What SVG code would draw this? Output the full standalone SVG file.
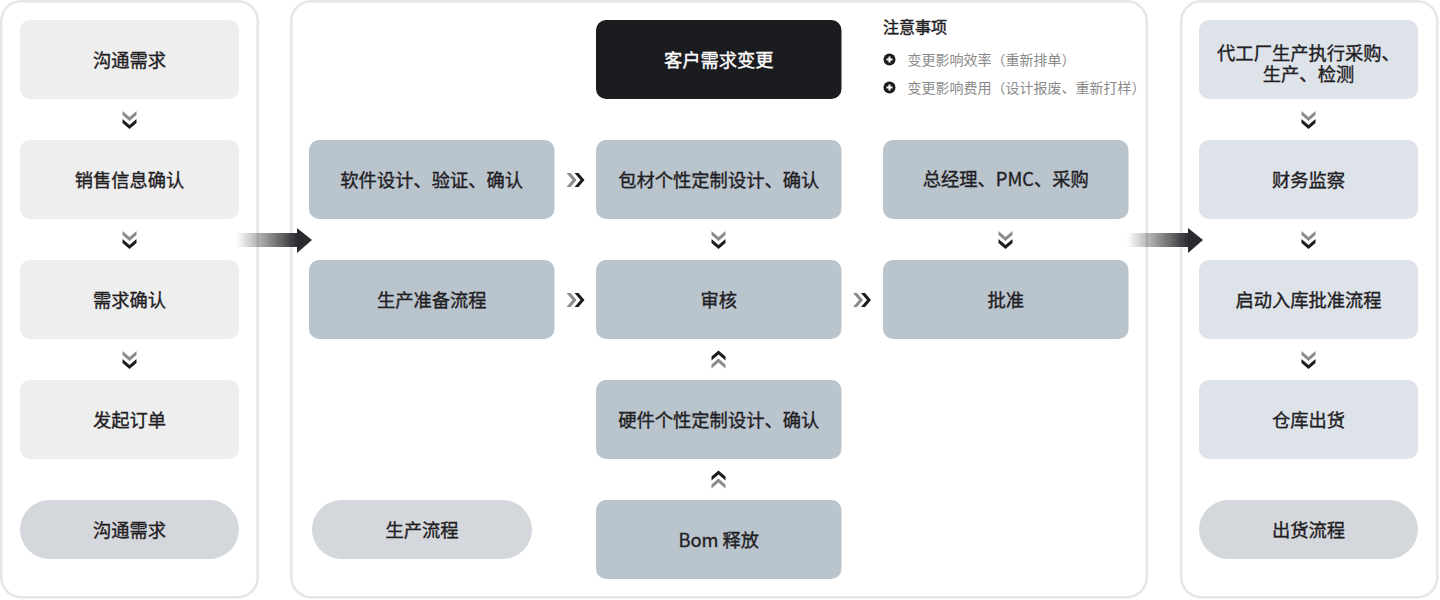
<svg xmlns="http://www.w3.org/2000/svg" width="1440" height="600" viewBox="0 0 1440 600">
<style>
text{font-family:"Noto Sans CJK SC","Noto Sans",sans-serif;}
.panel{fill:#ffffff;stroke:#e6e6e6;stroke-width:2.5;}
.lbox{fill:#eeeeee;}
.mbox{fill:#bac4cd;}
.rbox{fill:#dde3e9;}
.pill{fill:#d4d7db;}
.dark{fill:#1b1c1f;}
.t{font-size:18.3px;fill:#1f2023;stroke:#1f2023;stroke-width:0.35;text-anchor:middle;font-weight:400;}
.tw{font-size:18.3px;fill:#ffffff;stroke:#ffffff;stroke-width:0.35;text-anchor:middle;font-weight:400;}
.nt{font-size:16px;fill:#1f2023;stroke:#1f2023;stroke-width:0.45;font-weight:400;}
.ni{font-size:14px;fill:#8a8a8a;}
.cg{fill:#8c8c8c;}
.cb{fill:#1b1c1f;}
</style>
<defs>
<linearGradient id="ag" x1="0" y1="0" x2="1" y2="0">
<stop offset="0" stop-color="#2a2b2e" stop-opacity="0"/>
<stop offset="1" stop-color="#2a2b2e" stop-opacity="1"/>
</linearGradient>
<polygon id="cd" points="-7,0 0,6 7,0 7,4 0,10 -7,4"/>
<polygon id="cu" points="-7,10 0,4 7,10 7,6 0,0 -7,6"/>
<polygon id="cr" points="0,-7 6,0 0,7 4,7 10,0 4,-7"/>
</defs>

<g id="panels">
<rect class="panel" x="1.25" y="1.25" width="256.5" height="596" rx="20"/>
<rect class="panel" x="291.25" y="1.25" width="855.5" height="596" rx="20"/>
<rect class="panel" x="1181.25" y="1.25" width="256" height="596" rx="20"/>
</g>

<g id="left-column">
<g id="n-goutong"><rect class="lbox" x="20" y="20" width="219" height="79" rx="10"/><text class="t" x="129.5" y="67">沟通需求</text></g>
<g id="n-xiaoshou"><rect class="lbox" x="20" y="140" width="219" height="79" rx="10"/><text class="t" x="129.5" y="187">销售信息确认</text></g>
<g id="n-xuqiu"><rect class="lbox" x="20" y="260" width="219" height="79" rx="10"/><text class="t" x="129.5" y="307">需求确认</text></g>
<g id="n-faqi"><rect class="lbox" x="20" y="380" width="219" height="79" rx="10"/><text class="t" x="129.5" y="427">发起订单</text></g>
<g id="n-goutong-pill"><rect class="pill" x="20" y="500" width="219" height="59" rx="29.5"/><text class="t" x="129.5" y="537">沟通需求</text></g>
</g>

<g id="middle-column">
<g id="n-change"><rect class="dark" x="596" y="20" width="245.5" height="79" rx="10"/><text class="tw" x="718.75" y="67">客户需求变更</text></g>
<g id="n-notes">
<text class="nt" x="883" y="33">注意事项</text>
<circle cx="889.5" cy="59.5" r="6" fill="#1b1c1f"/>
<path d="M886.5 59.5h6M889.5 56.5v6" stroke="#ffffff" stroke-width="2"/>
<text class="ni" x="907.5" y="64.5">变更影响效率（重新排单）</text>
<circle cx="889.5" cy="87.5" r="6" fill="#1b1c1f"/>
<path d="M886.5 87.5h6M889.5 84.5v6" stroke="#ffffff" stroke-width="2"/>
<text class="ni" x="907.5" y="92.5">变更影响费用（设计报废、重新打样）</text>
</g>
<g id="n-software"><rect class="mbox" x="309" y="140" width="245.5" height="79" rx="10"/><text class="t" x="431.75" y="187">软件设计、验证、确认</text></g>
<g id="n-package"><rect class="mbox" x="596" y="140" width="245.5" height="79" rx="10"/><text class="t" x="718.75" y="187">包材个性定制设计、确认</text></g>
<g id="n-gm"><rect class="mbox" x="883" y="140" width="245.5" height="79" rx="10"/><text class="t" x="1005.75" y="186">总经理、PMC、采购</text></g>
<g id="n-prep"><rect class="mbox" x="309" y="260" width="245.5" height="79" rx="10"/><text class="t" x="431.75" y="307">生产准备流程</text></g>
<g id="n-review"><rect class="mbox" x="596" y="260" width="245.5" height="79" rx="10"/><text class="t" x="718.75" y="307">审核</text></g>
<g id="n-approve"><rect class="mbox" x="883" y="260" width="245.5" height="79" rx="10"/><text class="t" x="1005.75" y="307">批准</text></g>
<g id="n-hardware"><rect class="mbox" x="596" y="380" width="245.5" height="79" rx="10"/><text class="t" x="718.75" y="427">硬件个性定制设计、确认</text></g>
<g id="n-bom"><rect class="mbox" x="596" y="500" width="245.5" height="79" rx="10"/><text class="t" x="718.75" y="547">Bom 释放</text></g>
<g id="n-prod-pill"><rect class="pill" x="312" y="500" width="220" height="59" rx="29.5"/><text class="t" x="422" y="537">生产流程</text></g>
</g>

<g id="right-column">
<g id="n-factory"><rect class="rbox" x="1199" y="20" width="219" height="79" rx="10"/><text class="t"><tspan x="1308.5" y="60">代工厂生产执行采购、</tspan><tspan x="1308.5" y="81">生产、检测</tspan></text></g>
<g id="n-finance"><rect class="rbox" x="1199" y="140" width="219" height="79" rx="10"/><text class="t" x="1308.5" y="187">财务监察</text></g>
<g id="n-warehouse-flow"><rect class="rbox" x="1199" y="260" width="219" height="79" rx="10"/><text class="t" x="1308.5" y="307">启动入库批准流程</text></g>
<g id="n-ship"><rect class="rbox" x="1199" y="380" width="219" height="79" rx="10"/><text class="t" x="1308.5" y="427">仓库出货</text></g>
<g id="n-ship-pill"><rect class="pill" x="1199" y="500" width="219" height="59" rx="29.5"/><text class="t" x="1308.5" y="537">出货流程</text></g>
</g>

<g id="connectors">
<rect x="236" y="233" width="62" height="14" fill="url(#ag)"/>
<polygon points="297,228 312,240 297,253" fill="#2a2b2e"/>
<rect x="1127" y="233" width="62" height="14" fill="url(#ag)"/>
<polygon points="1188,228 1203,240 1188,253" fill="#2a2b2e"/>
<use href="#cd" class="cg" x="129.5" y="111"/><use href="#cd" class="cb" x="129.5" y="119"/>
<use href="#cd" class="cg" x="129.5" y="231"/><use href="#cd" class="cb" x="129.5" y="239"/>
<use href="#cd" class="cg" x="129.5" y="351"/><use href="#cd" class="cb" x="129.5" y="359"/>
<use href="#cd" class="cg" x="1308.5" y="111"/><use href="#cd" class="cb" x="1308.5" y="119"/>
<use href="#cd" class="cg" x="1308.5" y="231"/><use href="#cd" class="cb" x="1308.5" y="239"/>
<use href="#cd" class="cg" x="1308.5" y="351"/><use href="#cd" class="cb" x="1308.5" y="359"/>
<use href="#cd" class="cg" x="718.5" y="231"/><use href="#cd" class="cb" x="718.5" y="239"/>
<use href="#cd" class="cg" x="1005.5" y="231"/><use href="#cd" class="cb" x="1005.5" y="239"/>
<use href="#cu" class="cb" x="718.5" y="350.5"/><use href="#cu" class="cg" x="718.5" y="358.5"/>
<use href="#cu" class="cb" x="718.5" y="470.5"/><use href="#cu" class="cg" x="718.5" y="478.5"/>
<use href="#cr" class="cg" x="566.5" y="180"/><use href="#cr" class="cb" x="574.5" y="180"/>
<use href="#cr" class="cg" x="566.5" y="300"/><use href="#cr" class="cb" x="574.5" y="300"/>
<use href="#cr" class="cg" x="853" y="300"/><use href="#cr" class="cb" x="861" y="300"/>
</g>
</svg>
